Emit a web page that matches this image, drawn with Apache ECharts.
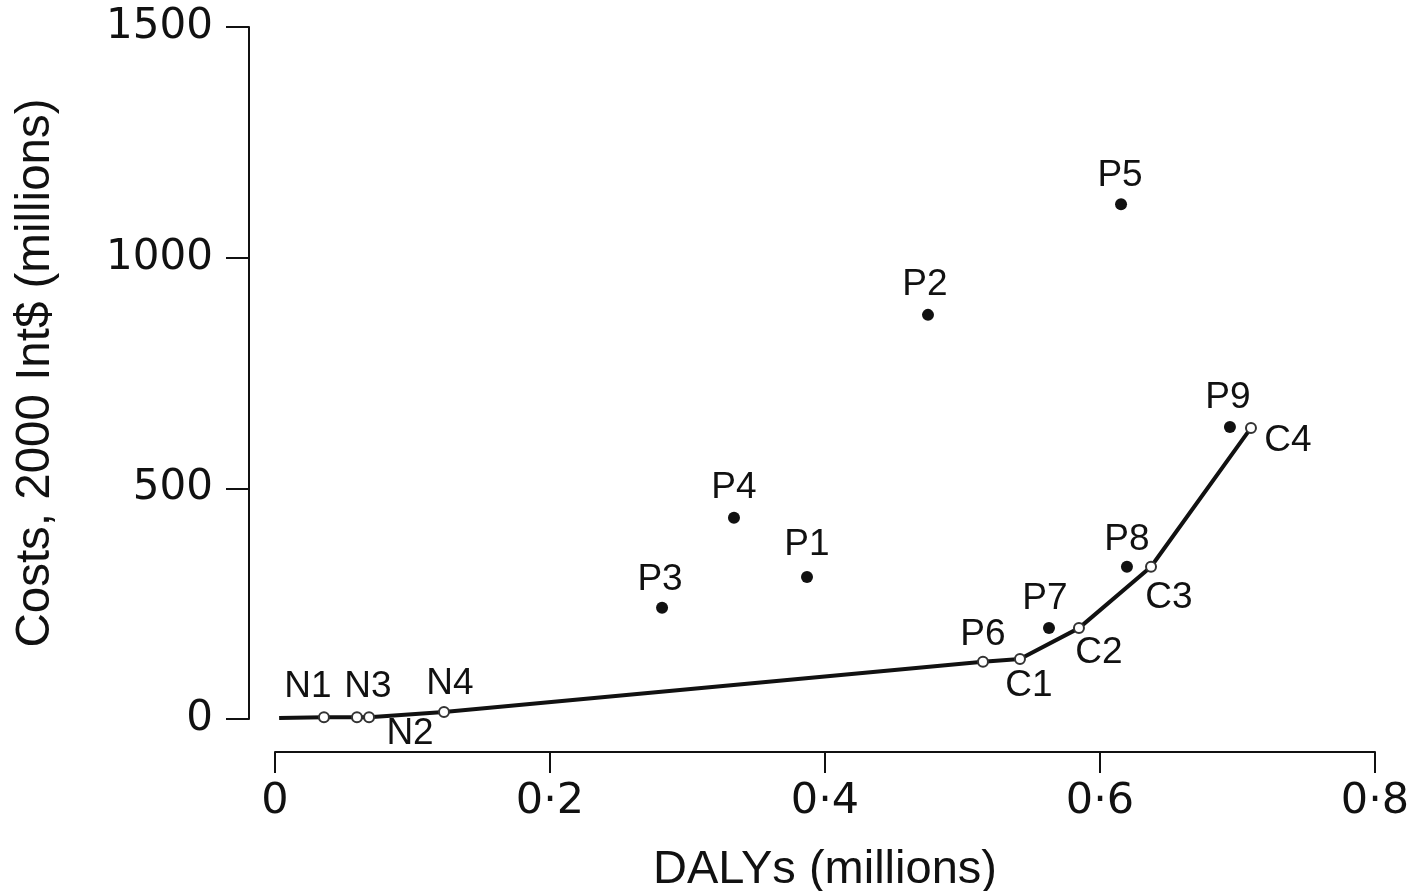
<!DOCTYPE html>
<html>
<head>
<meta charset="utf-8">
<script src="https://cdn.jsdelivr.net/npm/echarts@6/dist/echarts.min.js"></script>
<style>
html,body{margin:0;padding:0;background:#fff;}
#chart{width:1419px;height:891px;}
</style>
</head>
<body>
<div id="chart"></div>
<script>
// ---- Data ----
// Expansion path (cost-effectiveness frontier) — drawn as line with open markers
const pathNames = ['', 'N1', 'N3', 'N2', 'N4', 'P6', 'C1', 'C2', 'C3', 'C4'];
const pathDALYs = [0.003, 0.0356, 0.0596, 0.0684, 0.1229, 0.5149, 0.5418, 0.5847, 0.6371, 0.7098];
const pathCosts = [2, 4, 4, 4, 15, 124, 130, 197, 330, 631];

// Other interventions — filled dots
const pointNames = ['P1', 'P2', 'P3', 'P4', 'P5', 'P7', 'P8', 'P9'];
const pointDALYs = [0.3869, 0.4749, 0.2815, 0.3338, 0.6153, 0.5629, 0.6196, 0.6945];
const pointCosts = [308, 876, 241, 436, 1116, 197, 330, 633];

// Axis ticks
const xTicks = [0, 0.2, 0.4, 0.6, 0.8];
const yTicks = [0, 500, 1000, 1500];

// ---- Styling (label placement relative to marker centre, px) ----
const labelOffset = {
  N1: [-16, -30], N3: [11, -30], N2: [41, 17], N4: [6, -28],
  P6: [0, -27], C1: [9, 27], C2: [20, 25], C3: [18, 31], C4: [37, 13],
  P1: [0, -32], P2: [-3, -30], P3: [-2, -28], P4: [0, -30], P5: [-1, -28],
  P7: [-4, -29], P8: [0, -27], P9: [-2, -29]
};
const ink = '#111';
const labelFont = {
  fontFamily: 'Liberation Sans', fontSize: 37, color: ink,
  textBorderWidth: 0, textBorderColor: 'transparent', opacity: 1
};

function makeLabel(name) {
  if (!name) return { show: false };
  return Object.assign({ show: true, position: 'inside', offset: labelOffset[name], formatter: name }, labelFont);
}

const pathData = pathDALYs.map((x, i) => ({
  value: [x, pathCosts[i]],
  symbolSize: pathNames[i] ? 10 : 0,
  label: makeLabel(pathNames[i])
}));
const pointData = pointDALYs.map((x, i) => ({
  value: [x, pointCosts[i]],
  label: makeLabel(pointNames[i])
}));

const chart = echarts.init(document.getElementById('chart'), null, { renderer: 'canvas' });
chart.setOption({
  animation: false,
  backgroundColor: '#fff',
  grid: { left: 275, right: 44, top: 27, bottom: 172, containLabel: false, outerBoundsMode: 'none' },
  xAxis: {
    type: 'value',
    min: xTicks[0], max: xTicks[xTicks.length - 1], interval: 0.2,
    offset: 33,
    name: 'DALYs (millions)',
    nameLocation: 'middle',
    nameGap: 95,
    nameTextStyle: { fontFamily: 'Liberation Sans', fontSize: 47, color: ink },
    axisLine: { show: true, onZero: false, lineStyle: { color: ink, width: 2 } },
    axisTick: { show: true, length: 21, lineStyle: { color: ink, width: 2 } },
    splitLine: { show: false },
    axisLabel: {
      fontFamily: 'DejaVu Sans', fontSize: 43, color: ink, margin: 28,
      formatter: v => (v === 0 ? '0' : v.toFixed(1).replace('.', '\u00B7'))
    }
  },
  yAxis: {
    type: 'value',
    min: yTicks[0], max: yTicks[yTicks.length - 1], interval: 500,
    offset: 26,
    name: 'Costs, 2000 Int$ (millions)',
    nameLocation: 'middle',
    nameGap: 189,
    nameTextStyle: { fontFamily: 'Liberation Sans', fontSize: 47.5, color: ink },
    axisLine: { show: true, onZero: false, lineStyle: { color: ink, width: 2 } },
    axisTick: { show: true, length: 23, lineStyle: { color: ink, width: 2 } },
    splitLine: { show: false },
    axisLabel: {
      fontFamily: 'DejaVu Sans', fontSize: 42, color: ink, margin: 36,
      formatter: v => String(v)
    }
  },
  series: [
    {
      type: 'line',
      data: pathData,
      symbol: 'circle',
      showAllSymbol: true,
      lineStyle: { color: ink, width: 4 },
      itemStyle: { color: '#fff', borderColor: '#333', borderWidth: 2 },
      z: 3
    },
    {
      type: 'scatter',
      data: pointData,
      symbol: 'circle',
      symbolSize: 12,
      itemStyle: { color: '#111', opacity: 1 },
      z: 4
    }
  ]
});
</script>
</body>
</html>
